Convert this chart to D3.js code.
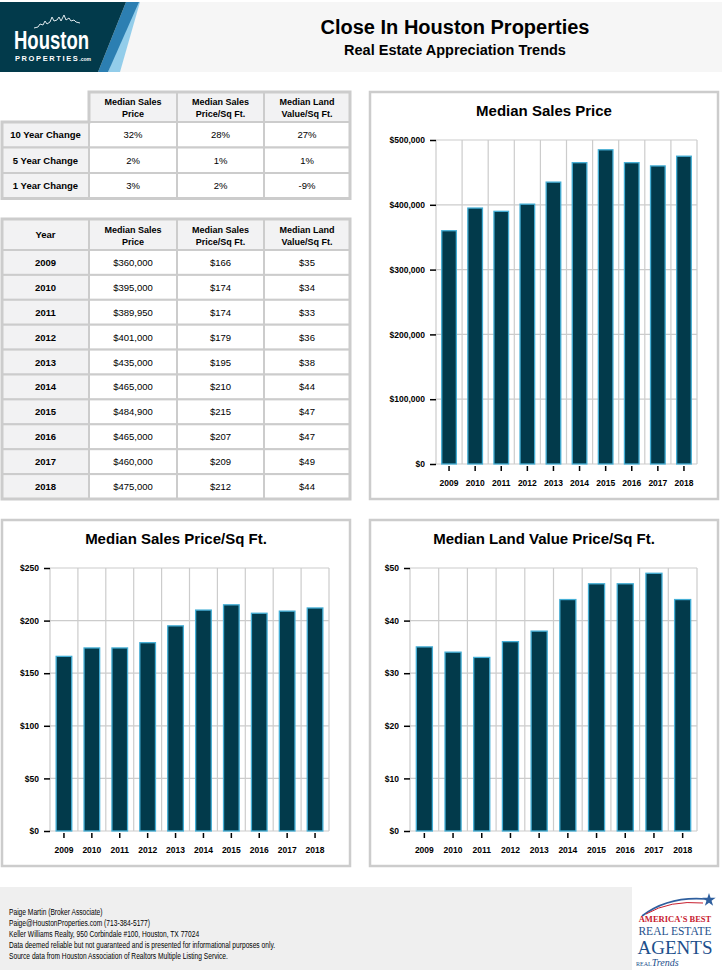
<!DOCTYPE html>
<html>
<head>
<meta charset="utf-8">
<script src="https://cdn.jsdelivr.net/npm/d3@7"></script>
<style>
  body { margin: 0; background: #fff; }
  svg { font-family: "Liberation Sans", Arial, sans-serif; }
</style>
</head>
<body>
<div id="page"></div>
<script>
const years = ["2009", "2010", "2011", "2012", "2013", "2014", "2015", "2016", "2017", "2018"];
const salesPrice = [360000, 395000, 389950, 401000, 435000, 465000, 484900, 465000, 460000, 475000];
const pricePerSqft = [166, 174, 174, 179, 195, 210, 215, 207, 209, 212];
const landPerSqft = [35, 34, 33, 36, 38, 44, 47, 47, 49, 44];

const changeLabels = ["10 Year Change", "5 Year Change", "1 Year Change"];
const changeSales = ["32%", "2%", "3%"];
const changeSqft = ["28%", "1%", "2%"];
const changeLand = ["27%", "1%", "-9%"];

const colHeads = [["Median Sales", "Price"], ["Median Sales", "Price/Sq Ft."], ["Median Land", "Value/Sq Ft."]];

const footerLines = [
  "Paige Martin (Broker Associate)",
  "Paige@HoustonProperties.com (713-384-5177)",
  "Keller Williams Realty, 950 Corbindale #100, Houston, TX 77024",
  "Data deemed reliable but not guaranteed and is presented for informational purposes only.",
  "Source data from Houston Association of Realtors Multiple Listing Service."
];

const W = 722, H = 980;
const svg = d3.select("#page").append("svg").attr("width", W).attr("height", H);

const dark = "#023a4b";
const grid = "#cccccc";
const serif = "'Liberation Serif', 'DejaVu Serif', serif";

// ---- header ----
svg.append("rect").attr("x", 0).attr("y", 2).attr("width", W).attr("height", 70).attr("fill", "#f6f6f6");
svg.append("polygon").attr("points", "108,72 120,72 140,2 134,2").attr("fill", "#93cdea");
svg.append("polygon").attr("points", "98,72 108,72 139,2 126,2").attr("fill", "#2c7fb2");
svg.append("polygon").attr("points", "0,2 126,2 98,72 0,72").attr("fill", dark);
// skyline squiggle
svg.append("path")
  .attr("d", "M34,28 l4,-1 l2,-3 l3,1 l2,-4 l2,3 l3,-2 l2,-5 l2,4 l3,-1 l2,-3 l2,4 l3,-6 l2,5 l3,-2 l2,3 l3,-1 l2,2 l4,1")
  .attr("fill", "none").attr("stroke", "#dfe8ec").attr("stroke-width", 1);
svg.append("text").attr("x", 14).attr("y", 49).attr("fill", "#fff")
  .attr("font-size", 25).attr("font-weight", "bold")
  .attr("textLength", 75).attr("lengthAdjust", "spacingAndGlyphs").text("Houston");
svg.append("text").attr("x", 15).attr("y", 61).attr("fill", "#fff")
  .attr("font-size", 7.5).attr("font-weight", "bold").attr("letter-spacing", 1.6).text("PROPERTIES")
  .append("tspan").attr("font-size", 5).attr("letter-spacing", 0).text(".com");

svg.append("text").attr("x", 455).attr("y", 34).attr("text-anchor", "middle")
  .attr("font-size", 20).attr("font-weight", "bold").text("Close In Houston Properties");
svg.append("text").attr("x", 455).attr("y", 55).attr("text-anchor", "middle")
  .attr("font-size", 14.5).attr("font-weight", "bold").text("Real Estate Appreciation Trends");

// ---- tables ----
const colX = [2, 89, 177, 264, 350];

function drawTable(y0, headH, rowH, firstHead, rowLabels, cols) {
  const g = svg.append("g");
  const nRows = rowLabels.length;
  const totalH = headH + rowH * nRows;
  const startCol = firstHead ? 0 : 1;
  for (let c = startCol; c < 4; c++) {
    g.append("rect").attr("x", colX[c]).attr("y", y0).attr("width", colX[c + 1] - colX[c]).attr("height", headH)
      .attr("fill", "#f2f2f3").attr("stroke", grid).attr("stroke-width", 2);
    const cx = (colX[c] + colX[c + 1]) / 2;
    if (c === 0) {
      g.append("text").attr("x", cx).attr("y", y0 + headH / 2 + 3.5).attr("text-anchor", "middle")
        .attr("font-size", 9.5).attr("font-weight", "bold").text(firstHead);
    } else {
      colHeads[c - 1].forEach((t, i) => {
        g.append("text").attr("x", cx).attr("y", y0 + headH / 2 - 2 + i * 12).attr("text-anchor", "middle")
          .attr("font-size", 9).attr("font-weight", "bold").text(t);
      });
    }
  }
  rowLabels.forEach((lab, r) => {
    const y = y0 + headH + r * rowH;
    for (let c = 0; c < 4; c++) {
      g.append("rect").attr("x", colX[c]).attr("y", y).attr("width", colX[c + 1] - colX[c]).attr("height", rowH)
        .attr("fill", c === 0 ? "#f2f2f3" : "#fff").attr("stroke", grid).attr("stroke-width", 2);
      const txt = c === 0 ? lab : cols[c - 1][r];
      g.append("text").attr("x", (colX[c] + colX[c + 1]) / 2).attr("y", y + rowH / 2 + 3.5)
        .attr("text-anchor", "middle").attr("font-size", 9.5)
        .attr("font-weight", c === 0 ? "bold" : "normal").text(txt);
    }
  });
  // outer frame
  g.append("path")
    .attr("d", firstHead
      ? `M${colX[0]},${y0}H${colX[4]}V${y0 + totalH}H${colX[0]}Z`
      : `M${colX[1]},${y0}H${colX[4]}V${y0 + totalH}H${colX[0]}V${y0 + headH}H${colX[1]}Z`)
    .attr("fill", "none").attr("stroke", grid).attr("stroke-width", 3);
}

drawTable(92, 30, 25.5, null, changeLabels, [changeSales, changeSqft, changeLand]);

const fmtMoney = d3.format("$,");
drawTable(219, 31, 24.9, "Year", years,
  [salesPrice.map(fmtMoney), pricePerSqft.map(fmtMoney), landPerSqft.map(fmtMoney)]);

// ---- bar charts ----
function drawChart(o) {
  const g = svg.append("g");
  g.append("rect").attr("x", o.px).attr("y", o.py).attr("width", o.pw).attr("height", o.ph)
    .attr("fill", "#fff").attr("stroke", grid).attr("stroke-width", 2.5);
  g.append("text").attr("x", o.px + o.pw / 2).attr("y", o.py + 24).attr("text-anchor", "middle")
    .attr("font-size", 15).attr("font-weight", "bold").text(o.title);

  const x = d3.scaleBand().domain(years).range([o.left, o.right]).paddingInner(0.44).paddingOuter(0.22);
  const y = d3.scaleLinear().domain([0, o.max]).range([o.bottom, o.top]);
  const ticks = d3.range(0, o.max + 1, o.step);

  // grid
  g.selectAll(".hg").data(ticks).join("line")
    .attr("x1", o.left).attr("x2", o.right).attr("y1", d => y(d)).attr("y2", d => y(d))
    .attr("stroke", grid).attr("stroke-width", 1.2);
  const bounds = d3.range(0, years.length + 1).map(i => o.left + i * x.step());
  g.selectAll(".vg").data(bounds).join("line")
    .attr("x1", d => d).attr("x2", d => d).attr("y1", o.top).attr("y2", o.bottom)
    .attr("stroke", grid).attr("stroke-width", 1.2);

  // bars
  g.selectAll(".bar").data(o.values).join("rect")
    .attr("x", (d, i) => x(years[i])).attr("width", x.bandwidth())
    .attr("y", d => y(d)).attr("height", d => o.bottom - y(d))
    .attr("fill", dark).attr("stroke", "#45afd6").attr("stroke-width", 1.3);

  // y axis
  const ya = g.append("g").attr("transform", `translate(${o.left},0)`)
    .call(d3.axisLeft(y).tickValues(ticks).tickSize(6).tickPadding(5).tickFormat(o.fmt));
  ya.select(".domain").remove();
  ya.selectAll("line").attr("stroke", "#000").attr("stroke-width", 1.5);
  ya.selectAll("text").attr("font-size", 8.5).attr("font-weight", "bold")
    .attr("font-family", "Liberation Sans, Arial, sans-serif").attr("fill", "#000");

  // x axis
  const xa = g.append("g").attr("transform", `translate(0,${o.bottom + 2})`)
    .call(d3.axisBottom(x).tickSize(5).tickPadding(9));
  xa.select(".domain").remove();
  xa.selectAll("line").attr("stroke", "#000").attr("stroke-width", 1.5);
  xa.selectAll("text").attr("font-size", 8.5).attr("font-weight", "bold")
    .attr("font-family", "Liberation Sans, Arial, sans-serif").attr("fill", "#000");
}

drawChart({ px: 370, py: 92, pw: 348, ph: 407, title: "Median Sales Price",
  left: 436, right: 697, top: 140, bottom: 464, max: 500000, step: 100000, values: salesPrice,
  fmt: d3.format("$,") });
drawChart({ px: 2, py: 520, pw: 348, ph: 346, title: "Median Sales Price/Sq Ft.",
  left: 50, right: 329, top: 568, bottom: 831, max: 250, step: 50, values: pricePerSqft,
  fmt: d3.format("$,") });
drawChart({ px: 370, py: 520, pw: 348, ph: 346, title: "Median Land Value Price/Sq Ft.",
  left: 410, right: 697, top: 568, bottom: 831, max: 50, step: 10, values: landPerSqft,
  fmt: d3.format("$,") });

// ---- footer ----
svg.append("rect").attr("x", 0).attr("y", 887).attr("width", 632).attr("height", 83).attr("fill", "#efefef");
const ft = svg.append("g").attr("transform", "translate(9,0) scale(0.74,1)");
footerLines.forEach((t, i) => {
  ft.append("text").attr("x", 0).attr("y", 915 + i * 11).attr("font-size", 9).text(t);
});

// award logo
const lg = svg.append("g");
lg.append("path").attr("d", "M642,916 Q668,896 706,899").attr("fill", "none").attr("stroke", "#2f5f9e").attr("stroke-width", 1.6);
lg.append("path").attr("d", "M646,914 Q670,900 703,903").attr("fill", "none").attr("stroke", "#c8202f").attr("stroke-width", 1);
lg.append("path").attr("d", d3.symbol(d3.symbolStar, 55)()).attr("transform", "translate(709,900)").attr("fill", "#2f5f9e");
lg.append("text").attr("x", 675).attr("y", 922).attr("text-anchor", "middle").attr("fill", "#c8202f")
  .style("font-family", serif).attr("font-size", 8.5).attr("font-weight", "bold").text("AMERICA'S BEST");
lg.append("text").attr("x", 675).attr("y", 935).attr("text-anchor", "middle").attr("fill", "#1d4f8c")
  .style("font-family", serif).attr("font-size", 11.5).text("REAL ESTATE");
lg.append("text").attr("x", 675).attr("y", 954).attr("text-anchor", "middle").attr("fill", "#1d4f8c")
  .style("font-family", serif).attr("font-size", 19).text("AGENTS");
lg.append("text").attr("x", 636).attr("y", 966).attr("fill", "#1d4f8c")
  .style("font-family", serif).attr("font-size", 6).text("REAL")
  .append("tspan").attr("font-style", "italic").attr("font-size", 10).text("Trends");
</script>
</body>
</html>
